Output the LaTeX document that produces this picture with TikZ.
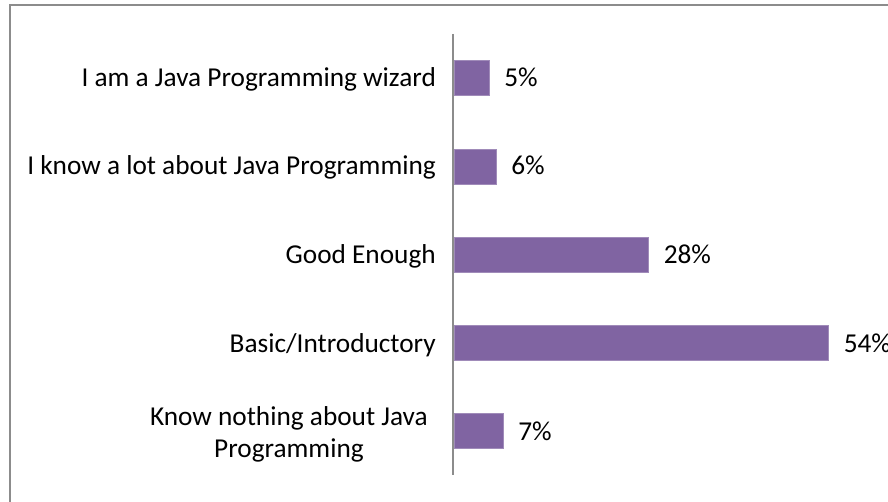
\documentclass[tikz,border=0pt]{standalone}
\usepackage{fontspec}
\setmainfont{Carlito}

\definecolor{barfill}{HTML}{8064A2}
\definecolor{framegray}{HTML}{8C8C8C}

\begin{document}
\begin{tikzpicture}[x=1pt,y=-1pt,
  cat/.style={anchor=base east,inner sep=0pt,font=\fontsize{27.3}{32}\selectfont},
  val/.style={anchor=base west,inner sep=0pt,font=\fontsize{27.3}{32}\selectfont},
  bar/.style={anchor=west,inner sep=0pt,minimum height=35pt,fill=barfill,draw=barfill!75!white,line width=0.6pt}]

\useasboundingbox (0,0) rectangle (888,502);

% frame and axis
\draw[framegray,line width=2pt] (10,502) -- (10,5) -- (888,5);
\coordinate (axtop) at (453,34);
\coordinate (axbot) at (453,475);
\draw[framegray,line width=1.5pt] (axtop) -- (axbot);

% categories
\node[cat] (c1) at (436,87) {I am a Java Programming wizard};
\node[cat] (c2) at (436,175) {I know a lot about Java Programming};
\node[cat] (c3) at (436,264) {Good Enough};
\node[cat] (c4) at (436,352) {Basic/Introductory};
\node[cat,align=center] (c5) at (428,457) {Know nothing about Java\\Programming};

% bars
\node[bar,minimum width=34.6pt] (b1) at (454,77.5) {};
\node[bar,minimum width=41.6pt] (b2) at (454,166.5) {};
\node[bar,minimum width=194pt] (b3) at (454,254.5) {};
\node[bar,minimum width=374pt] (b4) at (454,342.5) {};
\node[bar,minimum width=48.5pt] (b5) at (454,430.5) {};

% values
\node[val] (v1) at ([xshift=15pt,yshift=-9.5pt]b1.east) {5\%};
\node[val] (v2) at ([xshift=15pt,yshift=-8.5pt]b2.east) {6\%};
\node[val] (v3) at ([xshift=15pt,yshift=-9.5pt]b3.east) {28\%};
\node[val] (v4) at ([xshift=15pt,yshift=-9.5pt]b4.east) {54\%};
\node[val] (v5) at ([xshift=15pt,yshift=-9.5pt]b5.east) {7\%};

\end{tikzpicture}
\end{document}
